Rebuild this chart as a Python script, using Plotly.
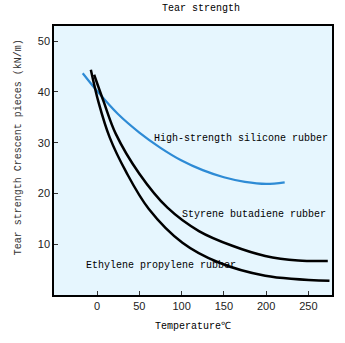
import plotly.graph_objects as go

silicone_x = [-17, 0, 25, 50, 75, 100, 125, 150, 175, 200, 222]
silicone_y = [43.7, 40.2, 35.6, 32.0, 29.0, 26.5, 24.6, 23.2, 22.3, 21.9, 22.2]

sbr_x = [-3.5, 8, 22, 50, 83.3, 120.5, 160, 199, 238, 273]
sbr_y = [43.4, 38.0, 31.8, 23.9, 17.2, 12.6, 9.7, 7.7, 6.8, 6.7]

epr_x = [-7.4, 2, 15, 34.5, 61, 101, 144, 199, 275]
epr_y = [44.4, 37.8, 31.0, 24.2, 17.0, 10.3, 6.4, 3.8, 2.8]

labels = ["High-strength silicone rubber", "Styrene butadiene rubber", "Ethylene propylene rubber"]
label_x = [170.4, 185.7, 75.6]
label_y = [30.8, 15.8, 5.9]

x_ticks = [0, 50, 100, 150, 200, 250]
y_ticks = [10, 20, 30, 40, 50]

mono = "Liberation Mono"

fig = go.Figure()
fig.add_trace(go.Scatter(x=silicone_x, y=silicone_y, mode="lines",
                         line=dict(color="#2E8BD5", width=2.2, shape="spline", smoothing=1.0)))
fig.add_trace(go.Scatter(x=sbr_x, y=sbr_y, mode="lines",
                         line=dict(color="#000000", width=2.5, shape="spline", smoothing=1.0)))
fig.add_trace(go.Scatter(x=epr_x, y=epr_y, mode="lines",
                         line=dict(color="#000000", width=2.5, shape="spline", smoothing=1.0)))

for t, x, y in zip(labels, label_x, label_y):
    fig.add_annotation(x=x, y=y, text=t, showarrow=False,
                       font=dict(family=mono, size=10, color="#000"))

fig.add_annotation(xref="paper", yref="paper", x=(202 - 54) / 280, y=1 + (26 - 8) / 269,
                   xanchor="center", yanchor="middle",
                   text="Tear strength", showarrow=False,
                   font=dict(family=mono, size=10, color="#000"))
fig.add_annotation(xref="paper", yref="paper", x=-(54 - 18) / 280, y=(295 - 147) / 269,
                   xanchor="center", yanchor="middle",
                   text="Tear strength Crescent pieces (kN/m)", textangle=-90, showarrow=False,
                   font=dict(family=mono, size=10, color="#333"))
fig.add_annotation(xref="paper", yref="paper", x=(194 - 54) / 280, y=-(326 - 295) / 269,
                   xanchor="center", yanchor="middle",
                   text="Temperature℃", showarrow=False,
                   font=dict(family=mono, size=10, color="#000"))

fig.update_layout(
    width=345, height=343,
    margin=dict(l=54, r=11, t=26, b=48),
    paper_bgcolor="white", plot_bgcolor="#E6F6FE",
    showlegend=False,
    xaxis=dict(range=[-51, 278], tickvals=x_ticks, ticks="inside", ticklen=4,
               tickcolor="#333", showgrid=False, zeroline=False,
               showline=True, linecolor="#000", linewidth=1.5, mirror=True,
               tickfont=dict(family="Liberation Sans", size=11, color="#222")),
    yaxis=dict(range=[0, 53], tickvals=y_ticks, ticks="inside", ticklen=4,
               tickcolor="#333", showgrid=False, zeroline=False,
               showline=True, linecolor="#000", linewidth=1.5, mirror=True,
               tickfont=dict(family="Liberation Sans", size=11, color="#222")),
)

fig.write_html("out.html")
